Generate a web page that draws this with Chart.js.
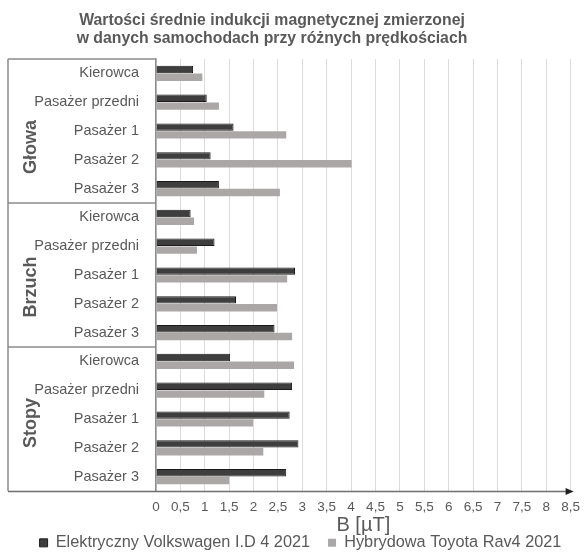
<!DOCTYPE html>
<html>
<head>
<meta charset="utf-8">
<script src="https://cdn.jsdelivr.net/npm/chart.js@4"></script>
<style>
  body { margin: 0; background: #fff; }
  #wrap { width: 588px; height: 553px; }
</style>
</head>
<body>
<div id="wrap"><canvas id="chart" width="588" height="553"></canvas></div>
<script>
// Data
const groups = ['Głowa', 'Brzuch', 'Stopy'];
const positions = ['Kierowca', 'Pasażer przedni', 'Pasażer 1', 'Pasażer 2', 'Pasażer 3'];
const seriesNames = ['Elektryczny Volkswagen I.D 4 2021', 'Hybrydowa Toyota Rav4 2021'];
const volkswagen = [0.76, 1.04, 1.59, 1.12, 1.29, 0.71, 1.20, 2.85, 1.64, 2.43, 1.52, 2.79, 2.74, 2.92, 2.67];
const toyota = [0.95, 1.29, 2.67, 4.01, 2.54, 0.78, 0.84, 2.69, 2.48, 2.79, 2.83, 2.22, 1.99, 2.20, 1.50];
const titleLines = ['Wartości średnie indukcji magnetycznej zmierzonej', 'w danych samochodach przy różnych prędkościach'];
const axisTitle = 'B [µT]';

const FONT = "'Liberation Sans', Arial, sans-serif";
const TEXT = '#595959';

// labels repeat for every group
const labels = groups.flatMap(() => positions);

// Draws the title, the group boxes, the rotated group names and the arrowed x axis
const groupBoxes = {
    id: 'groupBoxes',
    afterLayout(chart) {
        // the reference legend sits a little right of centre
        chart.legend.left += 14;
        chart.legend.right += 14;
    },
    afterDraw(chart) {
        const {ctx, chartArea, scales: {y}} = chart;
        const left = 8;
        const n = positions.length;
        const bounds = [chartArea.top];
        for (let i = 1; i < groups.length; i++) {
            bounds.push((y.getPixelForValue(i * n - 1) + y.getPixelForValue(i * n)) / 2);
        }
        bounds.push(chartArea.bottom);

        ctx.save();
        // title (the reference has it a bit left of centre)
        ctx.fillStyle = TEXT;
        ctx.font = 'bold 15.8px ' + FONT;
        ctx.textAlign = 'center';
        ctx.textBaseline = 'middle';
        titleLines.forEach((t, i) => ctx.fillText(t, 272, 21 + i * 17.5));

        ctx.strokeStyle = '#8c8c8c';
        ctx.lineWidth = 1.5;
        ctx.beginPath();
        ctx.moveTo(left, chartArea.top);
        ctx.lineTo(left, chartArea.bottom);
        for (let i = 0; i < bounds.length - 1; i++) {
            ctx.moveTo(left, bounds[i]);
            ctx.lineTo(chartArea.left, bounds[i]);
        }
        ctx.stroke();

        // x axis line with arrow
        const yb = chartArea.bottom + 0.5;
        ctx.strokeStyle = '#6e6e6e';
        ctx.beginPath();
        ctx.moveTo(left, yb);
        ctx.lineTo(chartArea.right - 2, yb);
        ctx.stroke();
        ctx.fillStyle = '#1f1f1f';
        ctx.beginPath();
        ctx.moveTo(chartArea.right + 3, yb);
        ctx.lineTo(chartArea.right - 5, yb - 3.5);
        ctx.lineTo(chartArea.right - 5, yb + 3.5);
        ctx.closePath();
        ctx.fill();

        // group names, nudged down a bit like in the reference
        const nudge = [16, 12, 4];
        ctx.fillStyle = TEXT;
        ctx.font = 'bold 18px ' + FONT;
        groups.forEach((g, i) => {
            const cy = (bounds[i] + bounds[i + 1]) / 2 + nudge[i];
            ctx.save();
            ctx.translate(31, cy);
            ctx.rotate(-Math.PI / 2);
            ctx.fillText(g, 0, 0);
            ctx.restore();
        });
        ctx.restore();
    }
};

const ctx = document.getElementById('chart').getContext('2d');
const chart = new Chart(ctx, {
    type: 'bar',
    data: {
        labels: labels,
        datasets: [{
            label: seriesNames[0],
            data: volkswagen,
            backgroundColor: '#3e3e3e',
            borderColor: '#1a1a1a',
            borderWidth: 1,
            barPercentage: 0.95,
            categoryPercentage: 0.54
        }, {
            label: seriesNames[1],
            data: toyota,
            backgroundColor: '#aba7a7',
            borderWidth: 0,
            barPercentage: 0.95,
            categoryPercentage: 0.54
        }]
    },
    options: {
        indexAxis: 'y',
        responsive: false,
        animation: false,
        layout: { padding: { left: 0, right: 15, top: 59, bottom: -8 } },
        scales: {
            x: {
                min: 0,
                max: 8.5,
                grid: { color: '#dcdcdc', lineWidth: 1, drawTicks: false },
                border: { display: false },
                ticks: {
                    stepSize: 0.5,
                    autoSkip: false,
                    maxRotation: 0,
                    color: TEXT,
                    font: { family: FONT, size: 13.5 },
                    padding: 8,
                    callback: function(value) {
                        return String(value).replace('.', ',');
                    }
                },
                title: {
                    display: true,
                    text: axisTitle,
                    color: TEXT,
                    font: { family: FONT, size: 20 },
                    padding: { top: 0, bottom: -21 }
                },
                afterFit: function(scale) {
                    scale.height = 25.7;
                }
            },
            y: {
                grid: { display: false, drawTicks: false },
                border: { display: true, color: '#8c8c8c', width: 1.5 },
                ticks: {
                    autoSkip: false,
                    color: TEXT,
                    font: { family: FONT, size: 14.5 },
                    padding: 17
                },
                afterFit: function(scale) {
                    scale.width = 156;
                }
            }
        },
        plugins: {
            title: { display: false },
            legend: {
                display: true,
                position: 'bottom',
                labels: {
                    color: TEXT,
                    font: { family: FONT, size: 16.3 },
                    boxWidth: 8,
                    boxHeight: 8,
                    padding: 18
                }
            },
            tooltip: { enabled: false }
        }
    },
    plugins: [groupBoxes]
});
</script>
</body>
</html>
